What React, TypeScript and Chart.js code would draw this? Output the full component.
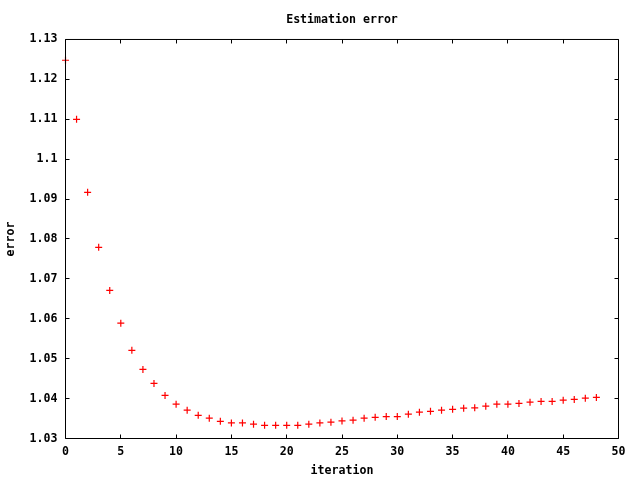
import React, { useEffect, useRef } from "react";
import { Chart, registerables } from "chart.js";

Chart.register(...registerables);

const iterations: number[] = [
  0, 1, 2, 3, 4, 5, 6, 7, 8, 9, 10, 11, 12, 13, 14, 15, 16, 17, 18, 19, 20, 21, 22, 23, 24,
  25, 26, 27, 28, 29, 30, 31, 32, 33, 34, 35, 36, 37, 38, 39, 40, 41, 42, 43, 44, 45, 46, 47, 48,
];
const errors: number[] = [
  1.1248, 1.11, 1.0917, 1.0779, 1.0671, 1.0589, 1.0521, 1.0473, 1.0438, 1.0408, 1.0386, 1.0371,
  1.0358, 1.0351, 1.0343, 1.0339, 1.0339, 1.0336, 1.0333, 1.0333, 1.0333, 1.0333, 1.0336, 1.0339,
  1.0341, 1.0344, 1.0346, 1.0351, 1.0353, 1.0355, 1.0355, 1.0361, 1.0366, 1.0368, 1.0371, 1.0373,
  1.0376, 1.0377, 1.0381, 1.0386, 1.0386, 1.0388, 1.0391, 1.0393, 1.0393, 1.0396, 1.0398, 1.0401,
  1.0403,
];
const xTicks: number[] = [0, 5, 10, 15, 20, 25, 30, 35, 40, 45, 50];
const yTicks: number[] = [1.03, 1.04, 1.05, 1.06, 1.07, 1.08, 1.09, 1.1, 1.11, 1.12, 1.13];

const FONT_FAMILY = '"DejaVu Sans Mono", "Liberation Mono", monospace';
const FONT = { family: FONT_FAMILY, size: 11.6, weight: "bold" as const, lineHeight: 1.2 };

const frame = {
  id: "gnuplotFrame",
  afterDraw(chart: any) {
    const { ctx, chartArea } = chart;
    const { left, right, top, bottom } = chartArea;
    const xs = chart.scales.x;
    const ys = chart.scales.y;
    ctx.save();
    ctx.strokeStyle = "#000";
    ctx.lineWidth = 1;
    ctx.beginPath();
    ctx.rect(left, top, right - left, bottom - top);
    const T = 4;
    xTicks.forEach((v) => {
      const px = Math.round(xs.getPixelForValue(v) - 0.5) + 0.5;
      ctx.moveTo(px, bottom);
      ctx.lineTo(px, bottom - T);
      ctx.moveTo(px, top);
      ctx.lineTo(px, top + T);
    });
    yTicks.forEach((v) => {
      const py = Math.round(ys.getPixelForValue(v) - 0.5) + 0.5;
      ctx.moveTo(left, py);
      ctx.lineTo(left + T, py);
      ctx.moveTo(right, py);
      ctx.lineTo(right - T, py);
    });
    ctx.stroke();
    ctx.restore();
  },
};

export default function App() {
  const ref = useRef<HTMLCanvasElement | null>(null);

  useEffect(() => {
    document.body.style.margin = "0";
    const canvas = ref.current;
    if (!canvas) return;
    const chart = new Chart(canvas, {
      type: "scatter",
      data: {
        datasets: [
          {
            label: "error",
            data: iterations.map((x, i) => ({ x, y: errors[i] })),
            pointStyle: "cross",
            pointRadius: 3.5,
            pointHoverRadius: 3.5,
            borderColor: "#ff0000",
            backgroundColor: "#ff0000",
            borderWidth: 1.2,
            showLine: false,
            clip: false,
          },
        ],
      },
      options: {
        animation: false,
        responsive: false,
        devicePixelRatio: 1,
        layout: { padding: { left: 0, right: 21.5, top: 0, bottom: 0 } },
        plugins: {
          legend: { display: false },
          tooltip: { enabled: false },
          title: {
            display: true,
            text: "Estimation error",
            color: "#000",
            font: FONT,
            fullSize: false,
            padding: { top: 13.3, bottom: 12.26 },
          },
        },
        scales: {
          x: {
            type: "linear",
            min: 0,
            max: 50,
            afterBuildTicks: (s: any) => {
              s.ticks = xTicks.map((v) => ({ value: v }));
            },
            afterFit: (s: any) => {
              s.height = 41.5;
            },
            grid: { display: false, drawTicks: false },
            border: { display: false },
            ticks: {
              color: "#000",
              font: FONT,
              padding: 7,
              maxRotation: 0,
              autoSkip: false,
            },
            title: {
              display: true,
              text: "iteration",
              color: "#000",
              font: FONT,
              padding: { top: 0, bottom: 1.8 },
            },
          },
          y: {
            type: "linear",
            min: 1.03,
            max: 1.13,
            afterBuildTicks: (s: any) => {
              s.ticks = yTicks.map((v) => ({ value: v }));
            },
            afterFit: (s: any) => {
              s.width = 65.5;
            },
            grid: { display: false, drawTicks: false },
            border: { display: false },
            ticks: {
              color: "#000",
              font: FONT,
              padding: 8,
              autoSkip: false,
              callback: (v: any) => String(Number(Number(v).toFixed(2))),
            },
            title: {
              display: true,
              text: "error",
              color: "#000",
              font: FONT,
              padding: { top: 4.3, bottom: 0 },
            },
          },
        },
      },
      plugins: [frame],
    });
    return () => chart.destroy();
  }, []);

  return (
    <div style={{ position: "absolute", left: 0, top: 0, width: 640, height: 480, background: "#fff" }}>
      <canvas ref={ref} width={640} height={480} style={{ width: 640, height: 480, display: "block" }} />
    </div>
  );
}
